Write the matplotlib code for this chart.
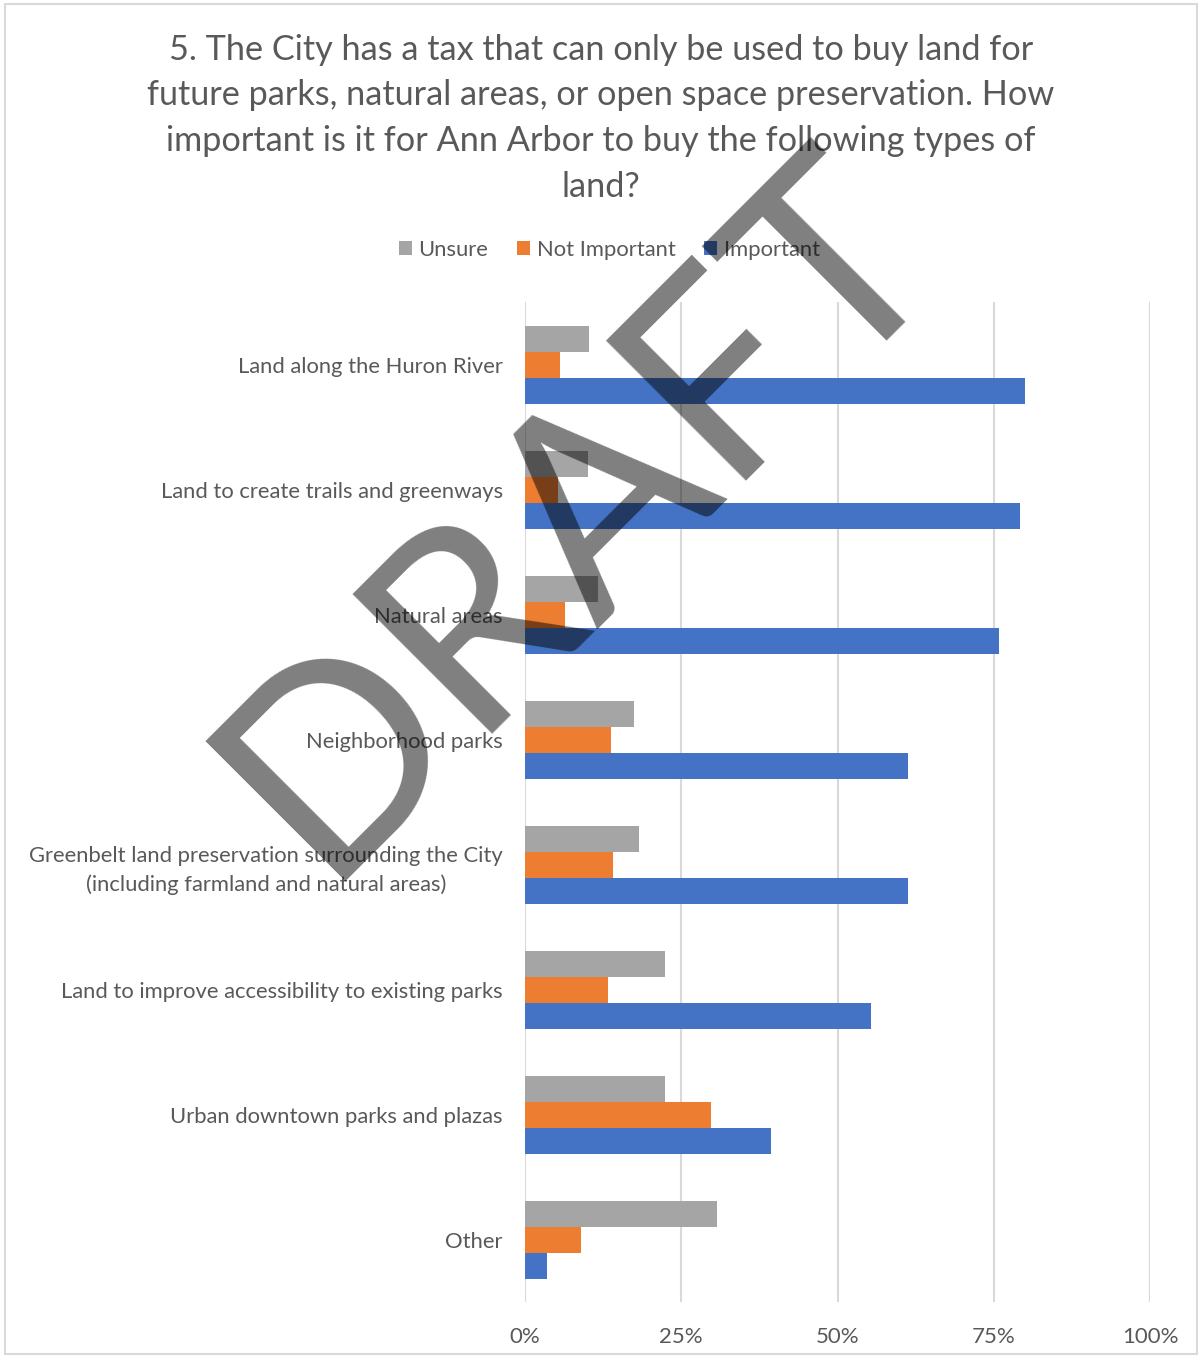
import matplotlib.pyplot as plt
import numpy as np
from matplotlib.patches import Rectangle

categories = [
    "Land along the Huron River",
    "Land to create trails and greenways",
    "Natural areas",
    "Neighborhood parks",
    "Greenbelt land preservation surrounding the City\n(including farmland and natural areas)",
    "Land to improve accessibility to existing parks",
    "Urban downtown parks and plazas",
    "Other",
]
unsure = [10.3, 10.1, 11.7, 17.4, 18.2, 22.4, 22.4, 30.7]
not_important = [5.6, 5.3, 6.4, 13.8, 14.1, 13.3, 29.8, 9.0]
important = [80.0, 79.2, 75.8, 61.3, 61.3, 55.4, 39.4, 3.5]
series_names = ["Unsure", "Not Important", "Important"]
colors = ["#A5A5A5", "#ED7D31", "#4472C4"]

title = ("5. The City has a tax that can only be used to buy land for\n"
         "future parks, natural areas, or open space preservation. How\n"
         "important is it for Ann Arbor to buy the following types of\n"
         "land?")

plt.rcParams['font.family'] = ['Lato', 'DejaVu Sans']
txt = "#595959"

fig = plt.figure(figsize=(12.02, 13.58), dpi=100)
ax = fig.add_axes([0.4368, 0.0412, 0.5200, 0.7364])

y = np.arange(len(categories))
h = 0.208
for k, (vals, name, c) in enumerate(zip([unsure, not_important, important], series_names, colors)):
    ax.barh(y + (k - 1) * h, vals, height=h, color=c, label=name, zorder=3)

ax.set_ylim(len(categories) - 0.5, -0.5)
ax.set_xlim(0, 100)
ax.set_xticks([0, 25, 50, 75, 100])
ax.set_xticklabels(["0%", "25%", "50%", "75%", "100%"], fontsize=16, color=txt)
ax.set_yticks(y)
ax.set_yticklabels(categories, fontsize=15.8, color=txt, linespacing=1.5,
                   multialignment='center')
ax.tick_params(length=0)
ax.tick_params(axis='x', pad=18)
ax.tick_params(axis='y', pad=16)
ax.grid(axis='x', color="#D9D9D9", linewidth=1.5, zorder=0)
for s in ax.spines.values():
    s.set_visible(False)

fig.text(0.5, 0.9753, title, ha='center', va='top', fontsize=24.7, color=txt, linespacing=1.53)

handles, labels = ax.get_legend_handles_labels()
fig.legend(handles, labels, loc='center', bbox_to_anchor=(0.507, 0.816), ncol=3,
           frameon=False, fontsize=15.8, labelcolor=txt, handlelength=0.6, handleheight=0.6,
           handletextpad=0.3, columnspacing=1.3)

# cadre du graphique
fig.patches.append(Rectangle((0.004, 0.003), 0.992, 0.994, transform=fig.transFigure,
                             fill=False, edgecolor="#D9D9D9", linewidth=1.5))

# filigrane
fig.text(0.481, 0.623, "DRAFT", rotation=45, ha='center', va='center', fontsize=198,
         color='black', alpha=0.5, zorder=10)

fig.savefig("out.png", dpi=100)
